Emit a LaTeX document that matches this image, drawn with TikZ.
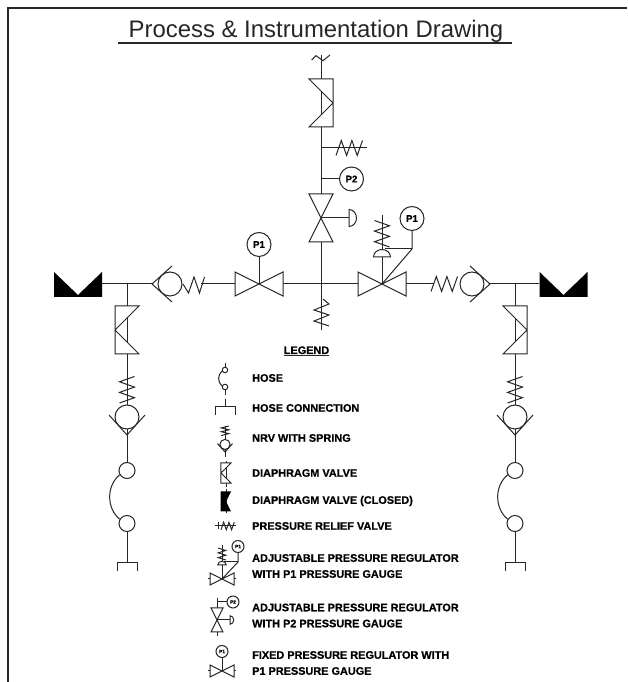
\documentclass[tikz,border=0pt]{standalone}
\usepackage{fontspec}
\setmainfont{Liberation Sans}
\newfontface\legfont[FakeBold=0.8]{Liberation Sans Bold}
\usetikzlibrary{positioning}
\tikzset{
  pipe/.style={draw=black!85,line width=1pt,line join=miter},
  frameline/.style={draw=black!85,line width=2pt},
  rule/.style={draw=black!85,line width=1.3pt},
  gauge/.style={pipe,circle,fill=white,minimum size=24pt,inner sep=0pt,font=\legfont\fontsize{9.6}{10}\selectfont},
  gaugesm/.style={pipe,circle,fill=white,minimum size=12pt,inner sep=0pt,font=\legfont\fontsize{4.8}{5}\selectfont},
  hoseend/.style={pipe,circle,fill=white,minimum size=16pt,inner sep=0pt},
  hoseendsm/.style={pipe,circle,fill=white,minimum size=5.5pt,inner sep=0pt},
  legtext/.style={anchor=west,align=left,inner sep=0pt,font=\legfont\fontsize{10.9}{16}\selectfont},
  bowtie/.pic={\draw[pipe,fill=white] (-24,12) -- (24,-12) -- (24,12) -- (-24,-12) -- cycle;},
  diaph/.pic={\draw[pipe,fill=white] (12,24) -- (-12,24) -- (-12,-24) -- (12,-24) -- (-12,0) -- cycle;},
  closedv/.pic={\fill[black] (-24,12) -- (0,-11) -- (24,12) -- (24,-13) -- (-24,-13) -- cycle;},
  closedsm/.pic={\fill[black] (-5.5,10) -- (5,10) -- (0,0) -- (5,-10) -- (-5.5,-10) -- cycle;},
  chkv/.pic={\draw[pipe,fill=white] (0,18) circle[radius=12];
    \draw[pipe] (-18,20) -- (0,0) -- (18,20);},
  sprg/.pic={\draw[pipe] (7.5,0) -- (-7.5,-5.3) -- (7.5,-10.6) -- (-7.5,-15.9) -- (7.5,-21.2) -- (-7.5,-26.5);},
  dome/.pic={\draw[pipe,fill=white] (-8.5,0) arc[start angle=180,end angle=0,x radius=8.5,y radius=7.5] -- cycle;},
  hosecon/.pic={\draw[pipe] (-10,-8) -- (-10,0) -- (10,0) -- (10,-8);}
}
\begin{document}
\begin{tikzpicture}[x=1pt,y=1pt]
\useasboundingbox (0,0) rectangle (627,682);

\coordinate (frameBL) at (8,0);
\coordinate (frameTL) at (8,674);
\coordinate (frameTR) at (627,674);
\draw[frameline] (frameBL) -- (frameTL) -- (frameTR);

\node[anchor=base,inner sep=0pt,text=black!85,font=\fontsize{23.9}{26}\selectfont] (lbTitle) at (316,644.3) {Process \& Instrumentation Drawing};
\coordinate (titleL) at (118,639);
\coordinate[right=394pt of titleL] (titleR);
\draw[rule] (titleL) -- (titleR);

\coordinate (tee) at (321,398);
\coordinate[left=62pt of tee] (vfix);
\coordinate[right=61pt of tee] (vreg);
\coordinate[left=194pt of tee] (branchL);
\coordinate[right=194pt of tee] (branchR);
\coordinate[left=219pt of tee] (portL);
\coordinate[right=218pt of tee] (portR);
\coordinate[left=24pt of portL] (closedL);
\coordinate[right=24.5pt of portR] (closedR);
\coordinate[left=169pt of tee] (chkL);
\coordinate[right=169pt of tee] (chkR);
\coordinate[right=31pt of chkL] (sprLa);
\coordinate[right=49pt of chkL] (sprLb);
\coordinate[left=59pt of chkR] (sprRa);
\coordinate[left=56pt of chkR] (sprRb);

\coordinate[above=229pt of tee] (topEnd);
\coordinate[below=46.5pt of tee] (teeEnd);
\coordinate[above=181pt of tee] (vtop);
\coordinate[above=136pt of tee] (relB);
\coordinate[right=46pt of relB] (relE);
\coordinate[right=15pt of relB] (relS);
\coordinate[above=105pt of tee] (stemP2);
\coordinate[above=66pt of tee] (vadj);
\coordinate[right=28pt of vadj] (actP2);

\draw[pipe] (portL) -- (chkL);
\draw[pipe] (sprLb) -- (sprRb);
\draw[pipe] (chkR) -- (portR);
\draw[pipe] (topEnd) -- (teeEnd);
\draw[pipe] (relB) -- (relE);

\node[hoseend,below=178pt of branchL] (hoseLa) {};
\node[hoseend,below=36pt of hoseLa] (hoseLb) {};
\node[hoseend,below=178pt of branchR] (hoseRa) {};
\node[hoseend,below=36pt of hoseRa] (hoseRb) {};
\coordinate[below=279pt of branchL] (connL);
\coordinate[below=279pt of branchR] (connR);
\draw[pipe] (branchL) -- (hoseLa);
\draw[pipe] (branchR) -- (hoseRa);
\draw[pipe] (hoseLb) -- (connL);
\draw[pipe] (hoseRb) -- (connR);
\draw[pipe] (hoseLa.210) to[bend right=50] (hoseLb.150);
\draw[pipe] (hoseRa.210) to[bend right=50] (hoseRb.150);
\pic at (connL) {hosecon};
\pic at (connR) {hosecon};

\coordinate[below=46pt of branchL] (diaL);
\coordinate[below=46pt of branchR] (diaR);
\coordinate[below=92.5pt of branchL] (sprL);
\coordinate[below=92.5pt of branchR] (sprR);
\coordinate[below=151pt of branchL] (nrvL);
\coordinate[below=151pt of branchR] (nrvR);
\pic at (diaL) {diaph};
\pic[xscale=-1] at (diaR) {diaph};
\pic at (sprL) {sprg};
\pic at (sprR) {sprg};
\pic at (nrvL) {chkv};
\pic at (nrvR) {chkv};

\pic at (closedL) {closedv};
\pic at (closedR) {closedv};
\pic[rotate=-90] at (chkL) {chkv};
\pic[rotate=90] at (chkR) {chkv};
\draw[pipe] (sprLa) -- ++(5.5,-9) -- ++(5.5,16) -- ++(5.5,-16) -- ++(5,16);
\pic[rotate=90,xscale=-1] at (sprRa) {sprg};

\pic at (vfix) {bowtie};
\node[gauge,above=27pt of vfix] (gaugeFix) {P1};
\draw[pipe] (vfix) -- (gaugeFix);

\pic[xscale=-1] at (vtop) {diaph};
\draw[pipe] (topEnd) ++(-9.3,-5) -- ++(4.3,4.3) -- ++(7,-5) -- ++(7,5.7);
\pic[rotate=90,xscale=-1] at (relS) {sprg};
\node[gauge,right=18pt of stemP2] (gaugeTwo) {P2};
\draw[pipe] (stemP2) -- (gaugeTwo);
\pic[rotate=90] at (vadj) {bowtie};
\draw[pipe] (vadj) -- (actP2);
\pic[rotate=-90] at (actP2) {dome};
\draw[pipe] (tee) ++(2,-15) -- ++(6,-5) -- ++(-15,-6) -- ++(15,-5) -- ++(-15,-6) -- ++(15,-5);

\coordinate[above=69pt of vreg] (regTop);
\coordinate[above=27pt of vreg] (regDome);
\coordinate[above=37pt of vreg] (regSpr);
\coordinate[above right=35pt and 30pt of vreg] (regFb);
\coordinate[left=27pt of regFb] (regFbL);
\draw[pipe] (vreg) -- (regTop);
\pic at (vreg) {bowtie};
\pic[yscale=-1] at (regSpr) {sprg};
\pic at (regDome) {dome};
\node[gauge,above=18pt of regFb] (gaugeReg) {P1};
\draw[pipe] (vreg) -- (regFb) -- (gaugeReg);
\draw[pipe] (regFbL) -- (regFb);

\node[inner sep=0pt,anchor=base,font=\legfont\fontsize{10.9}{12}\selectfont] (lbLegend) at (306.5,328) {LEGEND};
\coordinate (legendL) at (284,326.5);
\coordinate[right=45pt of legendL] (legendR);
\draw[pipe] (legendL) -- (legendR);

\node[legtext] (lbHose) at (252,304) {HOSE};
\node[legtext] (lbConn) at (252,274) {HOSE CONNECTION};
\node[legtext] (lbNrv) at (252,244) {NRV WITH SPRING};
\node[legtext] (lbDia) at (252,209) {DIAPHRAGM VALVE};
\node[legtext] (lbClosed) at (252,181) {DIAPHRAGM VALVE (CLOSED)};
\node[legtext] (lbRelief) at (252,156) {PRESSURE RELIEF VALVE};
\node[legtext] (lbAdjOne) at (252,116) {ADJUSTABLE PRESSURE REGULATOR\\WITH P1 PRESSURE GAUGE};
\node[legtext] (lbAdjTwo) at (252,66.5) {ADJUSTABLE PRESSURE REGULATOR\\WITH P2 PRESSURE GAUGE};
\node[legtext] (lbFixed) at (252,19) {FIXED PRESSURE REGULATOR WITH\\P1 PRESSURE GAUGE};

\node[hoseendsm] (symHoseA) at (225,312) {};
\node[hoseendsm] (symHoseB) at (225,295) {};
\coordinate[above=4pt of symHoseA] (symHoseT);
\coordinate[below=5pt of symHoseB] (symHoseE);
\draw[pipe] (symHoseT) -- (symHoseA);
\draw[pipe] (symHoseB) -- (symHoseE);
\draw[pipe] (symHoseA.200) to[bend right=50] (symHoseB.160);

\coordinate (symConn) at (225,275);
\coordinate[above=8pt of symConn] (symConnT);
\draw[pipe] (symConnT) -- (symConn);
\pic at (symConn) {hosecon};

\coordinate (symNrv) at (225,230);
\coordinate[above=26pt of symNrv] (symNrvS);
\coordinate[below=5pt of symNrv] (symNrvE);
\draw[pipe] (symNrvS) -- (symNrvE);
\pic[xscale=.5,yscale=.36] at (symNrvS) {sprg};
\pic[scale=.42] at (symNrv) {chkv};

\coordinate (symDia) at (226,209);
\coordinate[above=12pt of symDia] (symDiaT);
\coordinate[below=14pt of symDia] (symDiaE);
\draw[pipe] (symDiaT) -- (symDiaE);
\pic[scale=.42] at (symDia) {diaph};

\coordinate (symClosed) at (226,180.5);
\coordinate[above=12.5pt of symClosed] (symClosedT);
\coordinate[below=11.5pt of symClosed] (symClosedE);
\draw[pipe] (symClosedT) -- (symClosedE);
\pic at (symClosed) {closedsm};

\coordinate (symRelief) at (215,156);
\coordinate[right=21pt of symRelief] (symReliefE);
\coordinate[right=3pt of symRelief] (symReliefT);
\coordinate[right=6pt of symRelief] (symReliefS);
\draw[pipe] (symRelief) -- (symReliefE);
\draw[pipe] (symReliefT) ++(0,-3.5) -- ++(0,7);
\pic[rotate=90,xscale=-.5,yscale=.5] at (symReliefS) {sprg};

\coordinate (symAdj) at (222,103);
\coordinate[above=34pt of symAdj] (symAdjT);
\coordinate[above=14pt of symAdj] (symAdjD);
\coordinate[above=19pt of symAdj] (symAdjS);
\coordinate[above right=17pt and 16pt of symAdj] (symAdjF);
\coordinate[left=14pt of symAdjF] (symAdjL);
\coordinate[left=14pt of symAdj] (symAdjA);
\coordinate[right=14pt of symAdj] (symAdjB);
\draw[pipe] (symAdjA) -- (symAdjB);
\draw[pipe] (symAdj) -- (symAdjT);
\pic[scale=.5] at (symAdj) {bowtie};
\pic[xscale=.5,yscale=-.45] at (symAdjS) {sprg};
\pic[scale=.5] at (symAdjD) {dome};
\node[gaugesm,above=9pt of symAdjF] (gaugeAdj) {P1};
\draw[pipe] (symAdj) -- (symAdjF) -- (gaugeAdj);
\draw[pipe] (symAdjL) -- (symAdjF);

\coordinate (symTwo) at (217,62);
\coordinate[above=22pt of symTwo] (symTwoT);
\coordinate[below=16pt of symTwo] (symTwoE);
\coordinate[above=18pt of symTwo] (symTwoJ);
\coordinate[right=13pt of symTwo] (symTwoA);
\draw[pipe] (symTwoT) -- (symTwoE);
\pic[scale=.5,rotate=90] at (symTwo) {bowtie};
\draw[pipe] (symTwo) -- (symTwoA);
\pic[scale=.5,rotate=-90] at (symTwoA) {dome};
\node[gaugesm,right=9.5pt of symTwoJ] (gaugeSymTwo) {P2};
\draw[pipe] (symTwoJ) -- (gaugeSymTwo);

\coordinate (symFix) at (222,11);
\coordinate[left=14pt of symFix] (symFixA);
\coordinate[right=14pt of symFix] (symFixB);
\draw[pipe] (symFixA) -- (symFixB);
\pic[scale=.5] at (symFix) {bowtie};
\node[gaugesm,above=13pt of symFix] (gaugeSymFix) {P1};
\draw[pipe] (symFix) -- (gaugeSymFix);
\end{tikzpicture}
\end{document}
